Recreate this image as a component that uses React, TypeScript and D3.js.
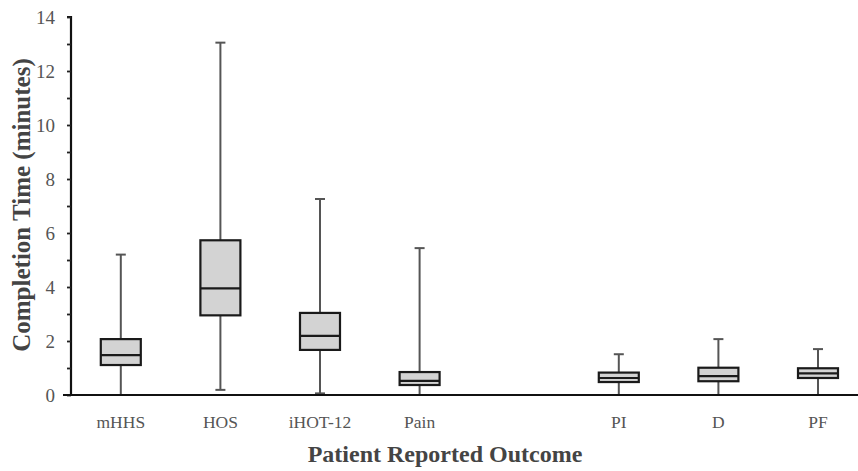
import React, { useEffect, useRef } from "react";
import * as d3 from "d3";

// categories (one empty slot between Pain and PI)
const categories = ["mHHS", "HOS", "iHOT-12", "Pain", "", "PI", "D", "PF"];
const outcomes = ["mHHS", "HOS", "iHOT-12", "Pain", "PI", "D", "PF"];
const mins = [0, 0.19, 0.06, 0, 0, 0, 0];
const q1s = [1.11, 2.95, 1.67, 0.37, 0.48, 0.51, 0.63];
const medians = [1.48, 3.95, 2.19, 0.52, 0.63, 0.7, 0.8];
const q3s = [2.07, 5.73, 3.04, 0.85, 0.83, 1.01, 0.99];
const maxes = [5.2, 13.05, 7.26, 5.44, 1.51, 2.07, 1.7];
const yTicks = [0, 2, 4, 6, 8, 10, 12, 14];

const W = 858;
const H = 471;
const serif = "'Liberation Serif', 'Times New Roman', serif";

const App = () => {
  const ref = useRef<SVGSVGElement>(null);

  useEffect(() => {
    const svg = d3.select(ref.current);
    svg.selectAll("*").remove();

    const left = 71;
    const bottom = 395;
    const top = 17;

    const x = d3.scaleBand().domain(categories).range([left, left + 8 * 99.6]);
    const y = d3.scaleLinear().domain([0, 14]).range([bottom, top]);

    const boxes = outcomes.map((name, i) => ({
      name,
      min: mins[i],
      q1: q1s[i],
      med: medians[i],
      q3: q3s[i],
      max: maxes[i],
    }));

    const cx = (d) => x(d.name) + x.bandwidth() / 2;
    const bw = 40;

    const g = svg.append("g");

    // whiskers
    g.selectAll("line.whisker")
      .data(boxes)
      .join("line")
      .attr("x1", cx)
      .attr("x2", cx)
      .attr("y1", (d) => y(d.min))
      .attr("y2", (d) => y(d.max))
      .attr("stroke", "#555")
      .attr("stroke-width", 2);

    g.selectAll("line.cap")
      .data(boxes)
      .join("line")
      .attr("x1", (d) => cx(d) - 5)
      .attr("x2", (d) => cx(d) + 5)
      .attr("y1", (d) => y(d.max))
      .attr("y2", (d) => y(d.max))
      .attr("stroke", "#555")
      .attr("stroke-width", 2);

    g.selectAll("line.lcap")
      .data(boxes.filter((d) => d.min > 0))
      .join("line")
      .attr("x1", (d) => cx(d) - 5)
      .attr("x2", (d) => cx(d) + 5)
      .attr("y1", (d) => y(d.min))
      .attr("y2", (d) => y(d.min))
      .attr("stroke", "#555")
      .attr("stroke-width", 2);

    // boxes
    g.selectAll("rect")
      .data(boxes)
      .join("rect")
      .attr("x", (d) => cx(d) - bw / 2)
      .attr("width", bw)
      .attr("y", (d) => y(d.q3))
      .attr("height", (d) => y(d.q1) - y(d.q3))
      .attr("fill", "#d3d3d3")
      .attr("stroke", "#1a1a1a")
      .attr("stroke-width", 2.2);

    g.selectAll("line.med")
      .data(boxes)
      .join("line")
      .attr("x1", (d) => cx(d) - bw / 2)
      .attr("x2", (d) => cx(d) + bw / 2)
      .attr("y1", (d) => y(d.med))
      .attr("y2", (d) => y(d.med))
      .attr("stroke", "#1a1a1a")
      .attr("stroke-width", 2.2);

    // y axis
    const yAxis = svg
      .append("g")
      .attr("transform", `translate(${left},0)`)
      .call(
        d3
          .axisLeft(y)
          .tickValues(d3.range(0, 15, 1))
          .tickSize(4)
          .tickFormat((d) => (yTicks.includes(+d) ? String(d) : ""))
      );
    yAxis.select(".domain").attr("stroke", "#111").attr("stroke-width", 2.2).attr("d", `M-4,${top}H0V${bottom}`);
    yAxis.selectAll(".tick line").attr("stroke", "#222").attr("stroke-width", 1.8);
    yAxis
      .selectAll(".tick text")
      .attr("x", -16)
      .attr("fill", "#555")
      .style("font-family", serif)
      .style("font-size", "19px");

    // x axis
    const xAxis = svg
      .append("g")
      .attr("transform", `translate(0,${bottom})`)
      .call(d3.axisBottom(x).tickSize(0).tickPadding(21));
    xAxis.select(".domain").attr("stroke", "#111").attr("stroke-width", 2.2).attr("d", `M${left - 8},0H${W}`);
    xAxis
      .selectAll(".tick text")
      .attr("fill", "#555")
      .style("font-family", serif)
      .style("font-size", "17.5px");

    // titles
    svg
      .append("text")
      .attr("x", 445)
      .attr("y", 462)
      .attr("text-anchor", "middle")
      .attr("fill", "#444")
      .style("font-family", serif)
      .style("font-weight", "bold")
      .style("font-size", "24px")
      .text("Patient Reported Outcome");

    svg
      .append("text")
      .attr("transform", "translate(30,205) rotate(-90)")
      .attr("text-anchor", "middle")
      .attr("fill", "#444")
      .style("font-family", serif)
      .style("font-weight", "bold")
      .style("font-size", "25px")
      .text("Completion Time (minutes)");
  }, []);

  return (
    <div style={{ position: "absolute", left: 0, top: 0 }}>
      <svg ref={ref} width={W} height={H} style={{ display: "block", background: "#fff" }}></svg>
    </div>
  );
};

export default App;
